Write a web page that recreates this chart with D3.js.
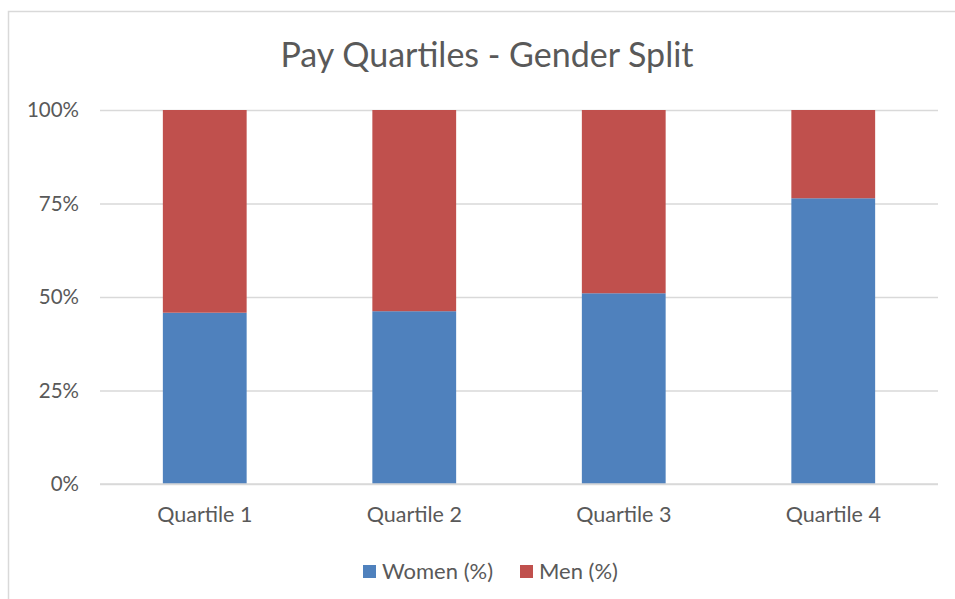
<html>
  <head>
    <meta charset="utf-8" />
    <title>Pay Quartiles - Gender Split</title>
    <script src="https://d3js.org/d3.v7.min.js"></script>
    <style>
      body {
        margin: 0;
        background: white;
      }
      text {
        font-family: Lato, "Open Sans", sans-serif;
        fill: #595959;
      }
      .gridlines line {
        stroke: #d9d9d9;
        stroke-width: 1.5px;
      }
      .gridlines path,
      .axis path,
      .axis line {
        display: none;
      }
    </style>
  </head>
  <body>
    <svg width="955" height="599" id="chart"></svg>
    <script>
      const quartiles = ["Quartile 1", "Quartile 2", "Quartile 3", "Quartile 4"];
      const women = [45.8, 46.2, 51.0, 76.4];
      const men = [54.2, 53.8, 49.0, 23.6];
      const seriesNames = ["Women (%)", "Men (%)"];
      const yTicks = [0, 25, 50, 75, 100];

      const svg = d3.select("svg#chart");
      const margin = { top: 110, right: 17, bottom: 115, left: 100 };
      const chartWidth = 955 - margin.left - margin.right;
      const chartHeight = 599 - margin.top - margin.bottom;
      const colors = ["#4f81bd", "#c0504d"];

      // frame
      svg
        .append("rect")
        .attr("x", 8.5)
        .attr("y", 11.5)
        .attr("width", 960)
        .attr("height", 600)
        .attr("fill", "none")
        .attr("stroke", "#d9d9d9")
        .attr("stroke-width", 1.5);

      svg
        .append("text")
        .attr("x", 487)
        .attr("y", 67)
        .attr("text-anchor", "middle")
        .attr("font-size", "34px")
        .text("Pay Quartiles - Gender Split");

      const chartArea = svg
        .append("g")
        .attr("transform", `translate(${margin.left},${margin.top})`);

      const yScale = d3.scaleLinear().domain([0, 100]).range([chartHeight, 0]);
      const xScale = d3
        .scaleBand()
        .domain(quartiles)
        .range([0, chartWidth])
        .paddingInner(0.6)
        .paddingOuter(0.3);

      chartArea
        .append("g")
        .attr("class", "gridlines")
        .call(d3.axisLeft(yScale).tickValues(yTicks).tickSize(-chartWidth).tickFormat(""));

      chartArea
        .append("g")
        .attr("class", "axis")
        .call(
          d3
            .axisLeft(yScale)
            .tickValues(yTicks)
            .tickSize(0)
            .tickPadding(21)
            .tickFormat((d) => d + "%")
        )
        .selectAll("text")
        .attr("font-size", "20.5px")
        .attr("dy", "0.33em");

      const stacked = d3
        .stack()
        .keys([0, 1])(quartiles.map((q, i) => ({ q: q, 0: women[i], 1: men[i] })));

      chartArea
        .selectAll("g.series")
        .data(stacked)
        .join("g")
        .attr("class", "series")
        .attr("fill", (d, i) => colors[i])
        .selectAll("rect")
        .data((d) => d)
        .join("rect")
        .attr("x", (d) => xScale(d.data.q))
        .attr("y", (d) => yScale(d[1]))
        .attr("width", xScale.bandwidth())
        .attr("height", (d) => yScale(d[0]) - yScale(d[1]));

      // redraw bottom gridline over bars
      chartArea
        .append("line")
        .attr("x1", 0)
        .attr("x2", chartWidth)
        .attr("y1", yScale(0))
        .attr("y2", yScale(0))
        .attr("stroke", "#d9d9d9")
        .attr("stroke-width", 1.5);

      chartArea
        .append("g")
        .attr("class", "axis")
        .attr("transform", `translate(0,${chartHeight})`)
        .call(d3.axisBottom(xScale).tickSize(0).tickPadding(23))
        .selectAll("text")
        .attr("font-size", "21.5px");

      const legend = svg.append("g").attr("transform", "translate(363,565)");
      const legendX = [0, 157];
      seriesNames.forEach((name, i) => {
        legend
          .append("rect")
          .attr("x", legendX[i])
          .attr("y", 0)
          .attr("width", 13)
          .attr("height", 13)
          .attr("fill", colors[i]);
        legend
          .append("text")
          .attr("x", legendX[i] + 19)
          .attr("y", 13.5)
          .attr("font-size", "22px")
          .text(name);
      });
    </script>
  </body>
</html>
